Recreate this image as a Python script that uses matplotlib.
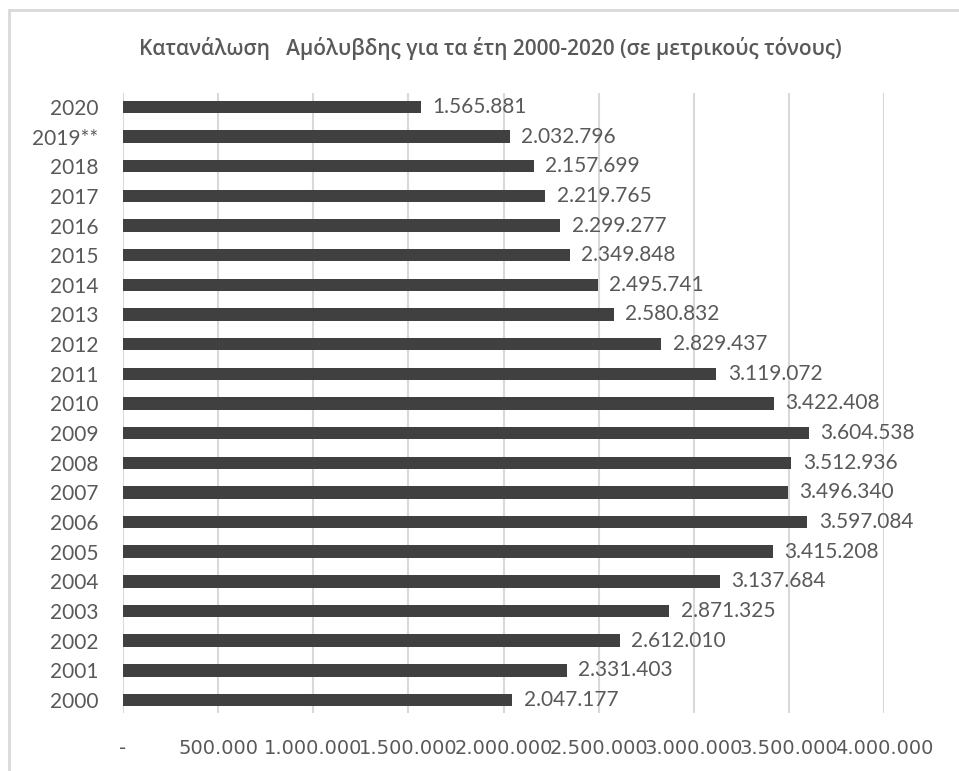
import matplotlib
matplotlib.use("Agg")
import matplotlib.pyplot as plt
from matplotlib.patches import Rectangle
from matplotlib.ticker import FuncFormatter, MultipleLocator

years = ["2020", "2019**", "2018", "2017", "2016", "2015", "2014", "2013", "2012",
         "2011", "2010", "2009", "2008", "2007", "2006", "2005", "2004", "2003",
         "2002", "2001", "2000"]
values = [1565881, 2032796, 2157699, 2219765, 2299277, 2349848, 2495741, 2580832,
          2829437, 3119072, 3422408, 3604538, 3512936, 3496340, 3597084, 3415208,
          3137684, 2871325, 2612010, 2331403, 2047177]
title = "Κατανάλωση   Αμόλυβδης για τα έτη 2000-2020 (σε μετρικούς τόνους)"

def fmt(v):
    if v == 0:
        return "-"
    return f"{int(v):,}".replace(",", ".")

W, H = 959, 771
fig = plt.figure(figsize=(W / 100, H / 100), dpi=100)
fig.patch.set_facecolor("white")

ax = fig.add_axes([123 / W, 1 - 713 / H, (884 - 123) / W, (713 - 93) / H])
n = len(years)
pos = list(range(n))[::-1]
ax.barh(pos, values, height=0.42, color="#404040", zorder=3)
ax.set_xlim(0, 4000000)
ax.set_ylim(-0.44, n - 1 + 0.47)
ax.set_yticks(pos)
ax.set_yticklabels(years)
ax.xaxis.set_major_locator(MultipleLocator(500000))
ax.xaxis.set_major_formatter(FuncFormatter(lambda v, p: fmt(v)))
ax.grid(axis="x", color="#d9d9d9", linewidth=1.5, zorder=0)
for s in ax.spines.values():
    s.set_visible(False)
ax.tick_params(axis="both", length=0, colors="#595959")
ax.tick_params(axis="y", pad=18)
ax.tick_params(axis="x", pad=19)
for lab in ax.get_yticklabels():
    lab.set_fontfamily("Lato")
    lab.set_fontsize(15)
for lab in ax.get_xticklabels():
    lab.set_fontfamily(["Liberation Sans Narrow", "DejaVu Sans"])
    lab.set_fontsize(14)

for p, v in zip(pos, values):
    ax.text(v + 60000, p, fmt(v), va="center", ha="left", fontsize=15,
            family="Lato", color="#595959", zorder=4)

fig.text(490 / W, 1 - 48 / H, title, ha="center", va="center", fontsize=15,
         family=["Open Sans", "DejaVu Sans"], weight="semibold", color="#595959")

fig.patches.append(Rectangle((9 / W, -0.05), 1.1, 1 - 10 / H + 0.05,
                             transform=fig.transFigure, fill=False,
                             edgecolor="#d9d9d9", linewidth=2))

fig.savefig("out.png", dpi=100)
